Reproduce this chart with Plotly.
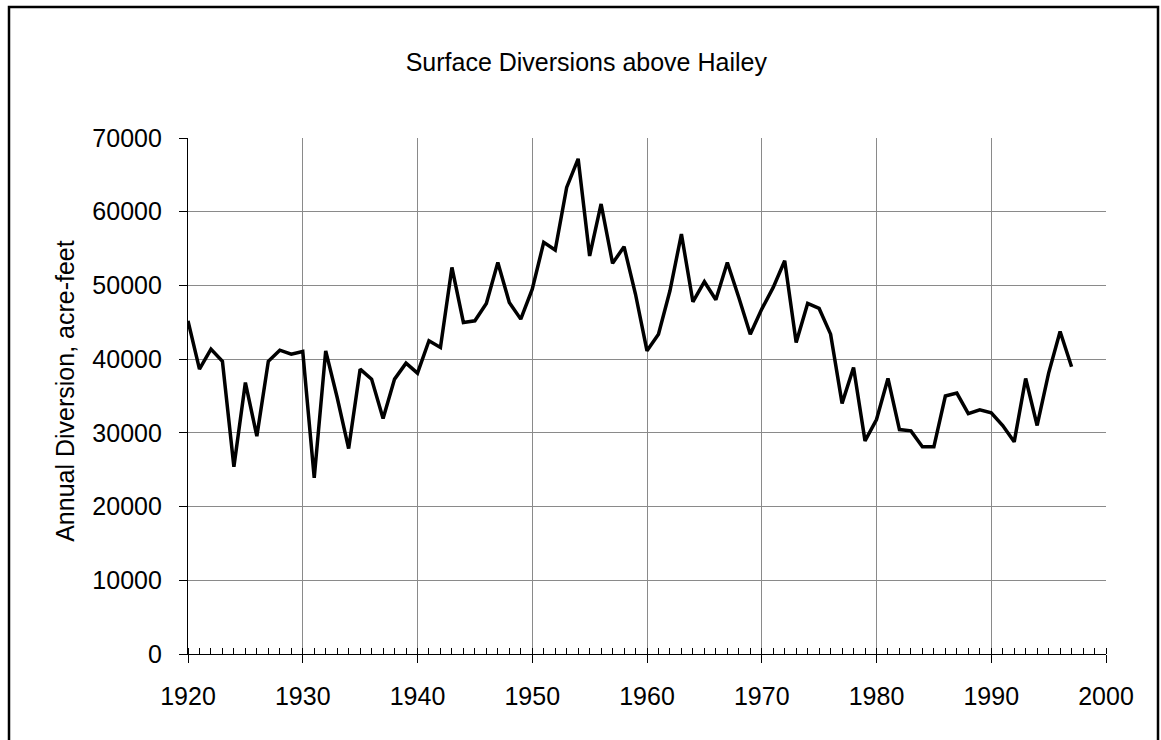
import plotly.graph_objects as go

# Annual surface diversions above Hailey, acre-feet
years = list(range(1920, 1998))
diversions = [
    45200, 38640, 41360, 39700, 25400, 36830, 29550, 39700, 41220, 40680,  # 1920s
    41040, 23900, 41130, 34800, 27870, 38640, 37290, 31950, 37290, 39460,  # 1930s
    38100, 42490, 41580, 52440, 44980, 45200, 47560, 53120, 47690, 45430,  # 1940s
    49500, 55840, 54800, 63300, 67180, 54000, 61050, 53000, 55250, 48800,  # 1950s
    41130, 43390, 49280, 56970, 47780, 50500, 48050, 53120, 48370, 43390,  # 1960s
    46790, 49730, 53350, 42260, 47560, 46880, 43390, 34000, 38870, 28910,  # 1970s
    31810, 37380, 30450, 30270, 28100, 28100, 35000, 35390, 32600, 33130,  # 1980s
    32730, 31000, 28780, 37380, 31000, 38100, 43760, 38960,                # 1990s
]

x_ticks = list(range(1920, 2001, 10))
y_ticks = list(range(0, 70001, 10000))

title_text = "Surface Diversions above Hailey"
y_title = "Annual Diversion, acre-feet"

FONT = "Liberation Sans, Arial, sans-serif"
FS = 25
W, H = 1161, 740
L, R, T, B = 188, 55, 138, 86

fig = go.Figure()
fig.add_trace(go.Scatter(
    x=years, y=diversions, mode="lines",
    line=dict(color="black", width=3.5),
    showlegend=False, hoverinfo="x+y",
))

fig.update_layout(
    width=W, height=H,
    margin=dict(l=L, r=R, t=T, b=B),
    paper_bgcolor="white", plot_bgcolor="white",
    font=dict(family=FONT, size=FS, color="black"),
    title=dict(text=title_text, x=0.505, xref="container", xanchor="center",
               y=1 - 62 / H, yref="container", yanchor="middle",
               font=dict(family=FONT, size=FS, color="black")),
)

fig.update_xaxes(
    range=[1920, 2000], tickvals=x_ticks, ticktext=[str(v) for v in x_ticks],
    ticks="outside", ticklen=8, tickwidth=1, tickcolor="black",
    ticklabelstandoff=12,
    showline=True, linecolor="black", linewidth=1.2,
    showgrid=True, gridcolor="#8a8a8a", gridwidth=1,
    zeroline=False,
    minor=dict(dtick=1, tick0=1920, ticks="inside", ticklen=6,
               tickwidth=1, tickcolor="black", showgrid=False),
)
fig.update_yaxes(
    range=[0, 70000], tickvals=y_ticks, tickformat="d",
    ticks="outside", ticklen=8, tickwidth=1, tickcolor="black",
    ticklabelstandoff=12,
    showline=True, linecolor="black", linewidth=1.2,
    showgrid=True, gridcolor="#8a8a8a", gridwidth=1,
    zeroline=False,
)

# rotated y-axis title
fig.add_annotation(
    text=y_title, textangle=-90, showarrow=False,
    xref="paper", yref="paper",
    x=(65 - L) / (W - L - R), y=0.51,
    xanchor="center", yanchor="middle",
    font=dict(family=FONT, size=FS, color="black"),
)

# frame around the whole chart
pw, ph = W - L - R, H - T - B
fig.add_shape(
    type="rect", xref="paper", yref="paper", layer="above",
    x0=(9 - L) / pw, x1=(1158 - L) / pw,
    y0=(H - B - 760) / ph, y1=(H - B - 7) / ph,
    line=dict(color="black", width=2.5), fillcolor="rgba(0,0,0,0)",
)

fig.write_html("out.html")
